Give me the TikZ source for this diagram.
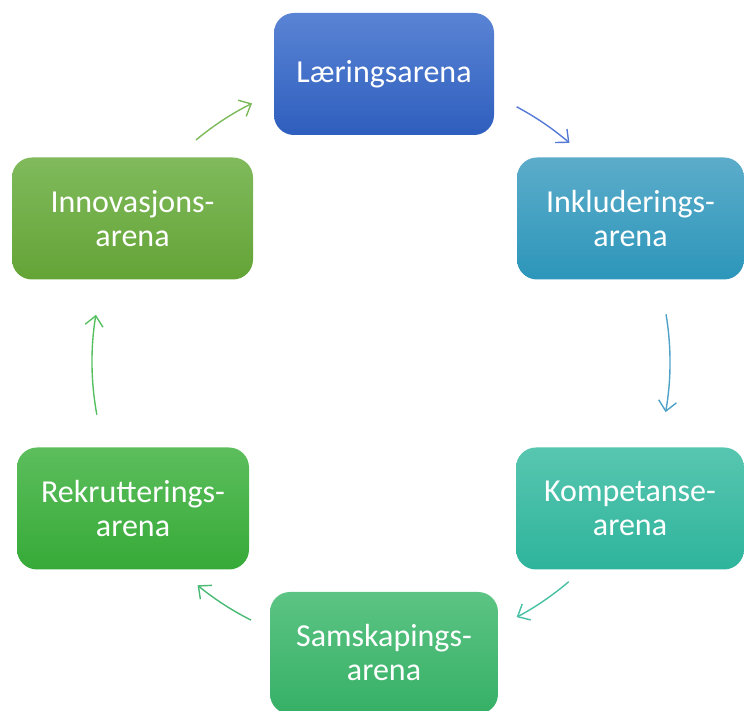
\documentclass[tikz,border=0pt]{standalone}
\usepackage{fontspec}
\setmainfont{Carlito}
\usepackage{xcolor}
\usepackage{tikz}
\usetikzlibrary{positioning, arrows.meta}

\definecolor{blaaTop}{RGB}{90,132,212}
\definecolor{blaaBot}{RGB}{46,94,190}
\definecolor{tealTop}{RGB}{92,172,202}
\definecolor{tealBot}{RGB}{44,150,186}
\definecolor{turkTop}{RGB}{88,198,176}
\definecolor{turkBot}{RGB}{46,180,156}
\definecolor{mintTop}{RGB}{92,196,132}
\definecolor{mintBot}{RGB}{54,176,102}
\definecolor{grTop}{RGB}{92,190,92}
\definecolor{grBot}{RGB}{54,170,56}
\definecolor{olivTop}{RGB}{128,186,92}
\definecolor{olivBot}{RGB}{100,164,54}

\begin{document}
\begin{tikzpicture}[
    x=1pt, y=1pt,
    arena/.style={
        rounded corners=20pt,
        align=center,
        inner sep=0pt,
        text=white,
        font=\fontsize{32}{34}\selectfont,
        minimum height=122pt
    },
    arrow/.style={-{Straight Barb[length=10pt,width=18pt]}, line width=1.4pt}
]
\useasboundingbox (0,0) rectangle (744,711);

% the six arenas
\node[arena, minimum width=220pt, top color=blaaTop, bottom color=blaaBot] (laering) at (384,637) {Læringsarena};
\node[arena, minimum width=227pt, top color=tealTop, bottom color=tealBot] (inkl) at (630.5,492.5) {Inkluderings-\\arena};
\node[arena, minimum width=228pt, top color=turkTop, bottom color=turkBot] (komp) at (630,202.5) {Kompetanse-\\arena};
\node[arena, minimum width=228pt, top color=mintTop, bottom color=mintBot] (sams) at (384,58) {Samskapings-\\arena};
\node[arena, minimum width=232pt, top color=grTop, bottom color=grBot] (rekr) at (133,202.5) {Rekrutterings-\\arena};
\node[arena, minimum width=241pt, top color=olivTop, bottom color=olivBot] (innov) at (132.5,492.5) {Innovasjons-\\arena};

% arrows on the circle
\coordinate (ctr) at (381,349);
\coordinate (a1) at ([shift={(62:289)}]ctr);
\coordinate (a2) at ([shift={(9.5:289)}]ctr);
\coordinate (a3) at ([shift={(-49.5:289)}]ctr);
\coordinate (a4) at ([shift={(-116.7:289)}]ctr);
\coordinate (a5) at ([shift={(190.5:289)}]ctr);
\coordinate (a6) at ([shift={(129.8:289)}]ctr);

\draw[arrow, color={rgb,255:red,84;green,122;blue,214}] (a1) arc[start angle=62, end angle=49.3, radius=289];
\draw[arrow, color={rgb,255:red,78;green,162;blue,200}] (a2) arc[start angle=9.5, end angle=-10, radius=289];
\draw[arrow, color={rgb,255:red,72;green,192;blue,164}] (a3) arc[start angle=-49.5, end angle=-62, radius=289];
\draw[arrow, color={rgb,255:red,72;green,186;blue,116}] (a4) arc[start angle=-116.7, end angle=-129.4, radius=289];
\draw[arrow, color={rgb,255:red,86;green,192;blue,96}] (a5) arc[start angle=190.5, end angle=170.6, radius=289];
\draw[arrow, color={rgb,255:red,124;green,186;blue,90}] (a6) arc[start angle=129.8, end angle=116.5, radius=289];

\end{tikzpicture}
\end{document}
